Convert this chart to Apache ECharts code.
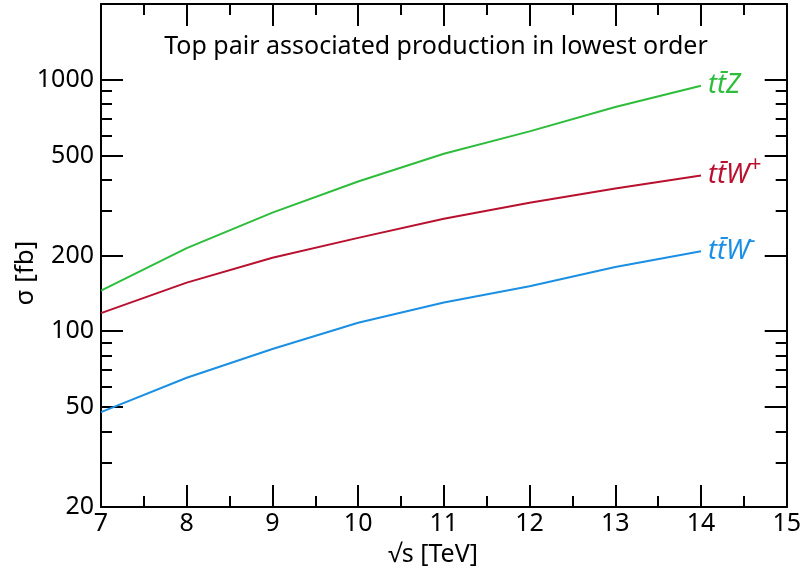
<!DOCTYPE html>
<html>
<head>
<meta charset="utf-8">
<script src="https://cdn.jsdelivr.net/npm/echarts@6/dist/echarts.min.js"></script>
<style>html,body{margin:0;padding:0;background:#fff;}#c{width:804px;height:574px;}</style>
</head>
<body>
<div id="c"></div>
<script>
// ---- data ----
const energies = [7, 8, 9, 10, 11, 12, 13, 14];           // sqrt(s) [TeV]
const ttZ      = [145, 214, 296, 394, 508, 623, 779, 946]; // sigma [fb]
const ttWplus  = [118, 156, 196, 235, 280, 324, 369, 416];
const ttWminus = [47.7, 65.3, 85, 108, 130, 151, 180, 208];
const seriesNames = ['tt̄Z', 'tt̄W+', 'tt̄W−'];
const yMajorTicks = [20, 50, 100, 200, 500, 1000];
const yMinorTicks = [30, 40, 60, 70, 80, 90, 300, 400, 600, 700, 800, 900];
const xTicks = [7, 8, 9, 10, 11, 12, 13, 14, 15];

const FONT = '"Noto Sans", "Open Sans", sans-serif';
const yMin = 20, yMax = 2000;
const L = v => Math.log10(v);

const chart = echarts.init(document.getElementById('c'), null, {renderer: 'canvas'});

function xAx(pos, labels) {
  return {
    type: 'value', position: pos, min: xTicks[0], max: xTicks[xTicks.length - 1], interval: 1,
    axisLine: {show: true, onZero: false, lineStyle: {color: '#000', width: 2}},
    axisTick: {show: true, inside: true, length: 22, lineStyle: {color: '#000', width: 2}},
    minorTick: {show: true, splitNumber: 2, length: 11, lineStyle: {color: '#000', width: 2}},
    splitLine: {show: false},
    axisLabel: {show: labels, color: '#000', fontSize: 25, fontFamily: FONT, margin: 4}
  };
}
function yDecor(pos, vals, len, labels, line) {
  return {
    type: 'value', position: pos, min: L(yMin), max: L(yMax),
    axisLine: {show: line, onZero: false, lineStyle: {color: '#000', width: 2}},
    axisTick: {show: true, inside: true, length: len, customValues: vals.map(L), lineStyle: {color: '#000', width: 2}},
    splitLine: {show: false},
    axisLabel: {show: labels, customValues: vals.map(L), color: '#000', fontSize: 25, fontFamily: FONT, margin: 7,
      formatter: v => String(Math.round(Math.pow(10, v)))}
  };
}

function mkSeries(name, data, color, labelText) {
  return {
    type: 'line', name: name, xAxisIndex: 0, yAxisIndex: 0,
    data: energies.map((e, i) => [e, data[i]]),
    showSymbol: false, symbol: 'none',
    lineStyle: {color: color, width: 2},
    itemStyle: {color: color},
    endLabel: {
      show: true, distance: 7, formatter: labelText,
      rich: {
        a: {color: color, fontSize: 27, fontStyle: 'italic', fontFamily: FONT},
        s: {color: color, fontSize: 21, fontStyle: 'italic', fontFamily: FONT, padding: [0, 0, 20, 0]}
      }
    }
  };
}

chart.setOption({
  animation: false,
  backgroundColor: '#fff',
  grid: {left: 101, right: 15, top: 4, bottom: 67, containLabel: false},
  xAxis: [xAx('bottom', true), xAx('top', false)],
  yAxis: [
    {type: 'log', logBase: 10, min: yMin, max: yMax, show: false, position: 'left'},
    yDecor('left', yMajorTicks, 22, true, true),
    yDecor('left', yMinorTicks, 11, false, false),
    yDecor('right', yMajorTicks, 22, false, true),
    yDecor('right', yMinorTicks, 11, false, false)
  ],
  series: [
    mkSeries(seriesNames[0], ttZ, '#2dbd3b', '{a|tt̄Z}'),
    mkSeries(seriesNames[1], ttWplus, '#b8102e', '{a|tt̄W}{s|+}'),
    mkSeries(seriesNames[2], ttWminus, '#1a8fe3', '{a|tt̄W}{s|−}')
  ],
  graphic: [
    {type: 'text', style: {text: 'Top pair associated production in lowest order', x: 436, y: 47,
      align: 'center', verticalAlign: 'middle', fontSize: 25, fontFamily: FONT, fill: '#000'}},
    {type: 'text', style: {text: '√s [TeV]', x: 433, y: 555, align: 'center', verticalAlign: 'middle',
      fontSize: 25, fontFamily: FONT, fill: '#000'}},
    {type: 'text', x: 26, y: 273, rotation: Math.PI / 2, style: {text: 'σ [fb]', x: 0, y: 0, align: 'center', verticalAlign: 'middle',
      fontSize: 26, fontFamily: FONT, fill: '#000'}}
  ]
});
</script>
</body>
</html>
